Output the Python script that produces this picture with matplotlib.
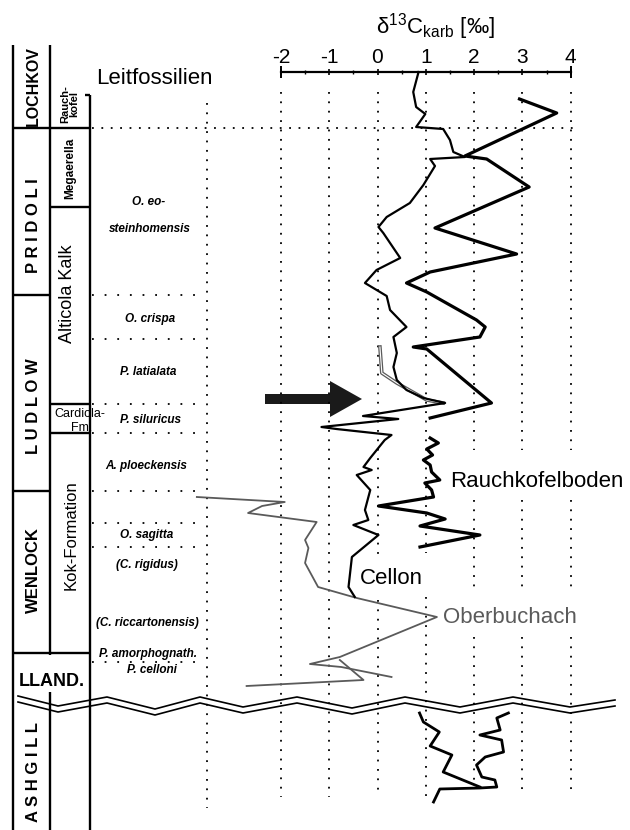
import matplotlib.pyplot as plt
from matplotlib.patches import FancyArrow

plt.rcParams['font.family'] = ['Liberation Sans', 'DejaVu Sans']
plt.rcParams['axes.unicode_minus'] = False
plt.rcParams['mathtext.fontset'] = 'custom'
plt.rcParams['mathtext.rm'] = 'Liberation Sans'
plt.rcParams['mathtext.it'] = 'Liberation Sans:italic'
plt.rcParams['mathtext.bf'] = 'Liberation Sans:bold'

# d13C axis
d13c_ticks = [-2, -1, 0, 1, 2, 3, 4]
d13c_minor = [-1.5, -0.5, 0.5, 1.5, 2.5, 3.5]

# Cellon profile (d13C, stratigraphic position on figure scale)
cellon_d13c = [0.85, 0.74, 0.80, 0.99, 0.80, 1.36, 1.50, 1.57, 1.81, 1.09,
               1.19, 0.95, 0.67, 0.19, 0.02, 0.12, 0.47, -0.02, -0.26, 0.19,
               0.26, 0.60, 0.33, 0.40, 0.33, 0.40, 0.60, 0.95, 1.40, -0.30,
               0.43, -1.16, -0.85, 0.29, 0.15, -0.15, -0.29, -0.12, -0.43, -0.15,
               -0.26, -0.19, -0.50, 0.02, -0.53, -0.60, -0.47]
cellon_pos = [72, 92, 107, 114, 127, 129, 140, 152, 157, 159,
              166, 185, 203, 217, 227, 233, 258, 270, 283, 296,
              310, 327, 337, 353, 367, 380, 390, 398, 403, 416,
              419, 427, 429, 435, 440, 458, 467, 470, 475, 490,
              510, 520, 525, 535, 557, 587, 597]

# Rauchkofelboden profile, two sections
rauch1_d13c = [2.94, 3.71, 1.81, 2.26, 3.14, 1.19, 2.88, 1.09, 0.60, 1.02,
               2.05, 2.23, 2.12, 0.74, 1.02, 2.36, 1.09]
rauch1_pos = [99, 113, 156, 159, 187, 228, 254, 272, 283, 292,
              320, 327, 337, 347, 349, 403, 418]
rauch2_d13c = [1.09, 1.26, 1.02, 1.14, 0.95, 1.09, 1.12, 1.29, 0.98, 1.12,
               1.16, 0.02, 1.02, 1.40, 0.88, 2.12, 0.88]
rauch2_pos = [438, 443, 449, 455, 460, 465, 472, 480, 483, 490,
              497, 506, 513, 519, 526, 535, 547]

# Oberbuchach profile
ober_d13c = [-3.74, -1.92, -2.39, -2.68, -1.26, -1.50, -1.43, -1.50, -1.23, -0.43,
             1.23, -0.78, -1.40, -0.75, 0.29]
ober_pos = [497, 502, 506, 513, 522, 540, 548, 563, 587, 598,
            617, 657, 664, 667, 677]
ober_b_d13c = [-0.78, -0.29, -2.71]
ober_b_pos = [660, 680, 686]

# grey short section in the Ludlow
grey_d13c = [0.05, 0.09, 0.40, 1.02, 1.36]
grey_pos = [347, 373, 383, 400, 403]

# Ashgill sections
ash1_d13c = [0.87, 0.95, 1.28, 1.09, 1.54, 1.36, 2.12]
ash1_pos = [713, 722, 732, 746, 755, 772, 787]
ash2_d13c = [2.71, 2.47, 2.54, 2.12, 2.57, 2.61, 2.23, 2.05, 2.16, 2.43,
             2.47, 2.12, 1.29, 1.16]
ash2_pos = [713, 718, 730, 735, 740, 752, 757, 765, 777, 780,
            787, 788, 789, 802]

# stratigraphy
series = ['LOCHKOV', 'P R I D O L I', 'L U D L O W', 'WENLOCK', 'A S H G I L L']
formations = ['Alticola Kalk', 'Kok-Formation']
zones = ['O. eo-', 'steinhomensis', 'O. crispa', 'P. latialata', 'P. siluricus',
         'A. ploeckensis', 'O. sagitta', '(C. rigidus)', '(C. riccartonensis)',
         'P. amorphognath.', 'P. celloni']
zone_bounds = [295, 339, 404, 433, 491, 523, 547, 662]

X0, PPU = 377.5, 48.3  # figure pixel of d13C = 0, pixels per permil

fig = plt.figure(figsize=(6.3, 8.3), dpi=100)
bg = fig.add_axes([0, 0, 1, 1], label='layout')
bg.set_xlim(0, 630)
bg.set_ylim(830, 0)
bg.axis('off')

ax = fig.add_axes([0, 0, 1, 1], label='curves')
ax.patch.set_visible(False)
ax.set_xlim((0 - X0) / PPU, (630 - X0) / PPU)
ax.set_ylim(830, 0)
for s in ['left', 'right', 'bottom']:
    ax.spines[s].set_visible(False)
ax.spines['top'].set_position(('data', 72))
ax.spines['top'].set_bounds(-2, 4)
ax.spines['top'].set_linewidth(1.6)
ax.xaxis.tick_top()
ax.set_xticks(d13c_ticks)
ax.set_xticklabels([str(t) for t in d13c_ticks])
ax.set_xticks(d13c_minor, minor=True)
ax.set_yticks([])
ax.tick_params(axis='x', which='major', direction='inout', length=5, width=1.2,
               labelsize=15, pad=1)
ax.tick_params(axis='x', which='minor', direction='inout', length=3, width=1.0)
ax.vlines([-2, 4], 66, 78, color='black', lw=1.4)

dots = (0, (1, 4.2))
# vertical grid, broken where the labels sit
gaps = {0: [(557, 600)], 1: [(553, 597)], 2: [(450, 500), (593, 637)],
        3: [(450, 500), (593, 637)], 4: [(450, 500), (593, 637)]}
for t in d13c_ticks:
    end = 797 if t <= 1 else 790
    y = 92
    for g0, g1 in gaps.get(t, []) + [(end, end)]:
        ax.plot([t, t], [y, g0], color='black', lw=1.3, linestyle=dots)
        y = g1

# curves
ax.plot(ober_d13c, ober_pos, color='#5a5a5a', lw=1.3)
ax.plot(ober_b_d13c, ober_b_pos, color='#5a5a5a', lw=1.3)
ax.plot(grey_d13c, grey_pos, color='#5a5a5a', lw=2.6)
ax.plot(grey_d13c, grey_pos, color='white', lw=0.8)
ax.plot(cellon_d13c, cellon_pos, color='black', lw=1.6)
ax.plot(rauch1_d13c, rauch1_pos, color='black', lw=2.3)
ax.plot(rauch2_d13c, rauch2_pos, color='black', lw=2.3)
ax.plot(ash1_d13c, ash1_pos, color='black', lw=2.0)
ax.plot(ash2_d13c, ash2_pos, color='black', lw=2.0)

# axis title and curve labels
bg.text(435, 27, r'δ$^{13}$C$_{\mathregular{karb}}$ [‰]', ha='center', va='center',
        fontsize=16)
bg.text(450, 481, 'Rauchkofelboden', ha='left', va='center', fontsize=16)
bg.text(360, 578, 'Cellon', ha='left', va='center', fontsize=16)
bg.text(443, 617, 'Oberbuchach', ha='left', va='center', fontsize=16, color='#5a5a5a')
bg.text(154, 78, 'Leitfossilien', ha='center', va='center', fontsize=16)

# stratigraphic columns
lw = 1.7
bg.vlines(13, 45, 830, color='black', lw=lw)
bg.vlines(50, 45, 655, color='black', lw=lw)
bg.vlines(50, 692, 830, color='black', lw=lw)
bg.vlines(90, 95, 830, color='black', lw=lw)
bg.hlines(95, 85, 90, color='black', lw=lw)
bg.hlines(128, 13, 90, color='black', lw=lw)
bg.hlines(653, 13, 90, color='black', lw=lw)
bg.hlines([295, 491], 13, 50, color='black', lw=lw)
bg.hlines([207, 404, 433], 50, 90, color='black', lw=lw)

# zone boundaries
bg.plot([92, 577], [128, 128], color='black', lw=1.3, linestyle=dots)
for yb in zone_bounds:
    bg.plot([92, 205], [yb, yb], color='black', lw=1.3, linestyle=(0, (1, 6)))
bg.plot([207, 207], [103, 808], color='black', lw=1.3, linestyle=dots)

# series labels
series_y = [86, 226, 406, 570, 772]
for name, yc in zip(series, series_y):
    bg.text(33, yc, name, rotation=90, ha='center', va='center',
            fontsize=11.5 if name == 'LOCHKOV' else 12, fontweight='bold')
bg.text(52, 681, 'LLAND.', ha='center', va='center', fontsize=13, fontweight='bold')

# formation labels
bg.text(70, 104, 'Rauch-\nkofel', rotation=90, ha='center', va='center',
        fontsize=8, fontweight='bold', linespacing=0.9)
bg.text(70, 168, 'Megaerella', rotation=90, ha='center', va='center',
        fontsize=8.5, fontweight='bold')
bg.text(67, 294, formations[0], rotation=90, ha='center', va='center', fontsize=13)
bg.text(71, 535, formations[1], rotation=90, ha='center', va='center', fontsize=12)
bg.text(80, 414, 'Cardiola-', ha='center', va='center', fontsize=9)
bg.text(82, 428, 'Fm.', ha='center', va='center', fontsize=9)

# index fossil zones
zone_xy = [(149, 202), (150, 229), (150, 319), (148, 372), (151, 420),
           (146, 466), (147, 535), (147, 565), (147, 623), (148, 654), (152, 670)]
for name, (xc, yc) in zip(zones, zone_xy):
    bg.text(xc, yc, name, ha='center', va='center', fontsize=8.5,
            fontweight='bold', style='italic')

# arrow
bg.add_patch(FancyArrow(265, 399, 97, 0, width=10, head_width=36, head_length=32,
                        length_includes_head=True, color='#1a1a1a', lw=0))

# unconformity (double wavy line)
wave_x = [18, 58, 107, 155, 200, 243, 297, 352, 405, 460, 513, 570, 615]
wave_y = [696, 706, 697, 709, 697, 707, 697, 708, 697, 707, 697, 707, 700]
bg.plot(wave_x, wave_y, color='black', lw=1.2)
bg.plot(wave_x, [v + 6 for v in wave_y], color='black', lw=1.2)

fig.savefig('out.png', dpi=100)
